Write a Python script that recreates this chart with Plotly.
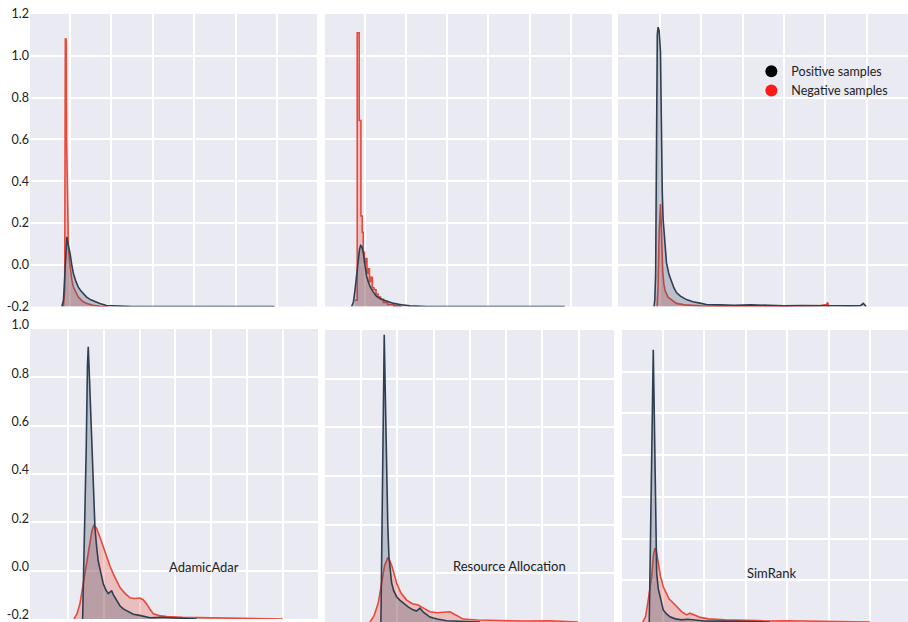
import plotly.graph_objects as go

# ---------------- data (x in grid units of each panel, y in displayed axis units) ----------------
BASE = -0.2

# top-left
tl_pos_x = [0.80, 0.84, 0.86, 0.88, 0.90, 0.92, 0.96, 1.00, 1.04, 1.08, 1.14, 1.20, 1.26, 1.32, 1.40, 1.50, 1.60, 1.72, 1.88, 2.10, 2.50, 3.50, 4.50, 5.94]
tl_pos_y = [-0.2, -0.17, -0.10, 0.00, 0.09, 0.133, 0.09, 0.054, 0.00, -0.042, -0.08, -0.107, -0.125, -0.138, -0.155, -0.168, -0.178, -0.186, -0.195, -0.198, -0.2, -0.2, -0.2, -0.2]
tl_neg_x = [0.84, 0.87, 0.885, 0.905, 0.915, 0.925, 0.935, 0.945, 0.96, 0.98, 1.00, 1.04, 1.08, 1.14, 1.20, 1.30, 1.40, 1.55, 1.72, 1.90]
tl_neg_y = [-0.2, -0.12, 1.08, 1.08, 0.60, 0.42, 0.40, 0.18, 0.09, 0.03, -0.011, -0.07, -0.107, -0.135, -0.155, -0.175, -0.185, -0.194, -0.199, -0.2]

# top-middle
tm_pos_x = [0.677, 0.72, 0.76, 0.80, 0.84, 0.87, 0.896, 0.93, 0.959, 1.00, 1.041, 1.08, 1.121, 1.20, 1.284, 1.40, 1.527, 1.70, 1.85, 2.09, 2.5, 3.5, 4.5, 5.85]
tm_pos_y = [-0.2, -0.18, -0.12, -0.04, 0.03, 0.075, 0.092, 0.085, 0.059, 0.00, -0.055, -0.08, -0.103, -0.13, -0.151, -0.165, -0.175, -0.185, -0.19, -0.197, -0.2, -0.2, -0.2, -0.2]
tm_neg_x = [0.757, 0.813, 0.862, 0.903, 0.934, 0.96, 0.99, 1.02, 1.05, 1.08, 1.11, 1.14, 1.18, 1.22, 1.27, 1.32, 1.38, 1.45, 1.55, 1.70, 1.85, 1.90]
tm_neg_y = [-0.17, 1.11, 0.69, 0.233, 0.155, 0.06, 0.01, 0.03, -0.04, -0.02, -0.08, -0.06, -0.11, -0.12, -0.14, -0.155, -0.165, -0.18, -0.19, -0.197, -0.2, -0.2]

# top-right
tr_pos_x = [0.862, 0.879, 0.90, 0.920, 0.94, 0.959, 0.985, 1.017, 1.041, 1.06, 1.08, 1.12, 1.162, 1.22, 1.283, 1.34, 1.403, 1.50, 1.645, 1.80, 2.0, 2.128, 2.45, 2.8, 3.2, 3.6, 4.0, 4.4, 4.8, 5.2, 5.6, 5.85, 5.92, 5.96, 5.99]
tr_pos_y = [-0.2, -0.17, -0.05, 0.60, 1.10, 1.137, 1.12, 1.02, 0.54, 0.35, 0.22, 0.09, 0.01, -0.045, -0.085, -0.11, -0.133, -0.15, -0.167, -0.177, -0.185, -0.19, -0.192, -0.194, -0.192, -0.195, -0.196, -0.195, -0.197, -0.196, -0.197, -0.196, -0.185, -0.195, -0.2]
tr_neg_x = [0.935, 0.96, 0.985, 1.017, 1.035, 1.048, 1.07, 1.097, 1.13, 1.2, 1.3, 1.403, 1.6, 2.0, 2.5, 3.0, 3.5, 4.0, 4.5, 4.9, 5.03, 5.06, 5.08]
tr_neg_y = [-0.2, -0.10, 0.15, 0.29, 0.20, 0.055, -0.03, -0.09, -0.125, -0.155, -0.172, -0.185, -0.192, -0.197, -0.198, -0.199, -0.199, -0.198, -0.197, -0.195, -0.19, -0.18, -0.2]

# bottom-left (AdamicAdar)
bl_pos_x = [1.41, 1.46, 1.51, 1.545, 1.567, 1.60, 1.662, 1.71, 1.754, 1.80, 1.846, 1.92, 1.986, 2.06, 2.126, 2.18, 2.22, 2.27, 2.36, 2.45, 2.545, 2.68, 2.824, 3.0, 3.29, 3.6, 4.0, 4.3, 4.6]
bl_pos_y = [-0.2, 0.10, 0.50, 0.85, 0.926, 0.80, 0.527, 0.33, 0.179, 0.10, 0.04, -0.01, -0.054, -0.08, -0.095, -0.088, -0.084, -0.10, -0.125, -0.145, -0.158, -0.17, -0.18, -0.185, -0.195, -0.193, -0.197, -0.198, -0.2]
bl_neg_x = [1.168, 1.25, 1.335, 1.40, 1.475, 1.55, 1.615, 1.67, 1.726, 1.80, 1.894, 1.99, 2.081, 2.17, 2.265, 2.36, 2.453, 2.6, 2.732, 2.85, 3.011, 3.1, 3.198, 3.3, 3.383, 3.55, 3.757, 4.2, 4.8, 5.4, 6.0, 6.5, 7.0]
bl_neg_y = [-0.2, -0.18, -0.137, -0.08, 0.0, 0.06, 0.11, 0.165, 0.19, 0.175, 0.138, 0.095, 0.055, 0.02, -0.013, -0.045, -0.07, -0.095, -0.112, -0.115, -0.113, -0.12, -0.138, -0.162, -0.178, -0.186, -0.19, -0.193, -0.195, -0.196, -0.197, -0.198, -0.2]

# bottom-middle (Resource Allocation)
bm_pos_x = [1.551, 1.58, 1.61, 1.642, 1.67, 1.708, 1.74, 1.771, 1.81, 1.846, 1.9, 1.983, 2.07, 2.165, 2.3, 2.433, 2.53, 2.625, 2.72, 2.9, 3.1, 3.36, 3.8, 4.278]
bm_pos_y = [-0.2, 0.2, 0.7, 0.98, 0.75, 0.396, 0.2, 0.068, 0.0, -0.04, -0.07, -0.096, -0.11, -0.122, -0.138, -0.15, -0.155, -0.143, -0.16, -0.18, -0.188, -0.195, -0.198, -0.2]
bm_neg_x = [1.248, 1.36, 1.477, 1.54, 1.598, 1.65, 1.74, 1.80, 1.86, 1.92, 1.983, 2.1, 2.259, 2.42, 2.579, 2.75, 2.9, 3.1, 3.3, 3.45, 3.6, 3.818, 4.2, 4.8, 5.5, 6.2, 6.978]
bm_neg_y = [-0.2, -0.175, -0.122, -0.07, -0.014, 0.03, 0.065, 0.05, 0.027, -0.005, -0.04, -0.08, -0.11, -0.125, -0.13, -0.145, -0.158, -0.162, -0.16, -0.158, -0.17, -0.188, -0.192, -0.195, -0.196, -0.195, -0.2]

# bottom-right (SimRank)
br_pos_x = [0.669, 0.70, 0.73, 0.766, 0.79, 0.807, 0.83, 0.848, 0.886, 0.928, 0.97, 1.007, 1.08, 1.169, 1.3, 1.45, 1.6, 1.8, 2.0, 2.4, 2.8, 3.2, 3.585]
br_pos_y = [-0.2, 0.2, 0.8, 1.105, 0.8, 0.497, 0.2, 0.035, -0.04, -0.079, -0.11, -0.142, -0.16, -0.175, -0.185, -0.19, -0.187, -0.192, -0.195, -0.196, -0.197, -0.198, -0.2]
br_neg_x = [0.51, 0.58, 0.645, 0.69, 0.727, 0.77, 0.807, 0.84, 0.886, 0.94, 1.007, 1.08, 1.15, 1.249, 1.35, 1.45, 1.572, 1.65, 1.75, 1.9, 2.1, 2.5, 3.0, 3.5, 4.0, 4.5, 5.0, 5.5, 6.0]
br_neg_y = [-0.2, -0.175, -0.094, -0.03, 0.017, 0.12, 0.155, 0.14, 0.083, 0.02, -0.031, -0.065, -0.09, -0.109, -0.13, -0.15, -0.166, -0.158, -0.165, -0.178, -0.185, -0.19, -0.192, -0.195, -0.194, -0.196, -0.195, -0.197, -0.2]

top_ticks = [-0.2, 0.0, 0.2, 0.4, 0.6, 0.8, 1.0, 1.2]
top_tick_text = ["-0.2", "0.0", "0.2", "0.4", "0.6", "0.8", "1.0", "1.2"]
bot_ticks = [-0.2, 0.0, 0.2, 0.4, 0.6, 0.8, 1.0]
bot_tick_text = ["-0.2", "0.0", "0.2", "0.4", "0.6", "0.8", "1.0"]

method_labels = ["AdamicAdar", "Resource Allocation", "SimRank"]
legend_names = ["Positive samples", "Negative samples"]

# ---------------- styling ----------------
POS_LINE = "#2e3f51"
POS_FILL = "rgba(60,80,105,0.28)"
NEG_LINE = "#e8493a"
NEG_FILL = "rgba(232,73,58,0.28)"
BG = "#eaeaf2"
FONT = "Lato, Open Sans, sans-serif"

fig = go.Figure()

panels = [
    ("x", "y", tl_pos_x, tl_pos_y, tl_neg_x, tl_neg_y, "linear"),
    ("x2", "y2", tm_pos_x, tm_pos_y, tm_neg_x, tm_neg_y, "hv"),
    ("x3", "y3", tr_pos_x, tr_pos_y, tr_neg_x, tr_neg_y, "linear"),
    ("x4", "y4", bl_pos_x, bl_pos_y, bl_neg_x, bl_neg_y, "linear"),
    ("x5", "y5", bm_pos_x, bm_pos_y, bm_neg_x, bm_neg_y, "linear"),
    ("x6", "y6", br_pos_x, br_pos_y, br_neg_x, br_neg_y, "linear"),
]


def add_area(xa, ya, xs, ys, line_color, fill_color, shape):
    fig.add_trace(go.Scatter(x=[xs[0], xs[-1]], y=[BASE, BASE], xaxis=xa, yaxis=ya,
                             mode="lines", line=dict(width=0), showlegend=False, hoverinfo="skip"))
    fig.add_trace(go.Scatter(x=xs, y=ys, xaxis=xa, yaxis=ya, mode="lines", fill="tonexty",
                             fillcolor=fill_color, line=dict(color=line_color, width=1.6, shape=shape),
                             showlegend=False))


for xa, ya, px_, py_, nx_, ny_, nshape in panels:
    add_area(xa, ya, nx_, ny_, NEG_LINE, NEG_FILL, nshape)
    add_area(xa, ya, px_, py_, POS_LINE, POS_FILL, "linear")

# legend entries
fig.add_trace(go.Scatter(x=[None], y=[None], xaxis="x3", yaxis="y3", mode="markers",
                         marker=dict(color="black", size=12), name=legend_names[0]))
fig.add_trace(go.Scatter(x=[None], y=[None], xaxis="x3", yaxis="y3", mode="markers",
                         marker=dict(color="#ff1a1a", size=12), name=legend_names[1]))

top_y = [0.5072, 0.9775]
doms = {
    "x": ([0.0330, 0.3491], top_y, [0.03, 6.97], [1, 2, 3, 4, 5, 6]),
    "x2": ([0.3579, 0.6740], top_y, [0.03, 7.0], [1, 2, 3, 4, 5, 6]),
    "x3": ([0.6806, 1.0], top_y, [-0.01, 7.0], [1, 2, 3, 4, 5, 6]),
    "x4": ([0.0330, 0.3502], [0.0048, 0.4711], [-0.06, 7.98], [1, 2, 3, 4, 5, 6, 7]),
    "x5": ([0.3579, 0.6762], [0.0, 0.4695], [0.01, 7.97], [1, 2, 3, 4, 5, 6, 7]),
    "x6": ([0.6850, 1.0], [0.0, 0.4695], [0.01, 6.92], [1, 2, 3, 4, 5, 6]),
}
yinfo = {
    "x": ("y", [-0.2, 1.2], top_ticks, top_tick_text, True, 0),
    "x2": ("y2", [-0.2, 1.2], top_ticks, top_tick_text, False, 0),
    "x3": ("y3", [-0.2, 1.2], top_ticks, top_tick_text, False, 0),
    "x4": ("y4", [-0.2, 1.0], bot_ticks, bot_tick_text, True, -4),
    "x5": ("y5", [-0.2, 1.0], bot_ticks, bot_tick_text, False, 0),
    "x6": ("y6", [-0.2, 1.2], top_ticks, top_tick_text, False, 0),
}

layout = dict(
    width=908, height=622, margin=dict(l=0, r=0, t=0, b=0),
    paper_bgcolor="white", plot_bgcolor=BG,
    font=dict(family=FONT, size=12, color="#222222"),
    showlegend=True,
    legend=dict(x=0.8275, y=0.909, xanchor="left", yanchor="top", bgcolor="rgba(0,0,0,0)",
                font=dict(family=FONT, size=12.5, color="#222222"), itemsizing="trace",
                traceorder="normal", tracegroupgap=0),
)

for xk, (xd, yd, xr, xt) in doms.items():
    yk, yr, ytv, ytt, showlab, shift = yinfo[xk]
    xname = "xaxis" if xk == "x" else "xaxis" + xk[1:]
    yname = "yaxis" if yk == "y" else "yaxis" + yk[1:]
    layout[xname] = dict(domain=xd, range=xr, tickvals=xt, showticklabels=False, showgrid=True,
                         gridcolor="white", gridwidth=1.5, zeroline=False, showline=False,
                         anchor=yk, fixedrange=True)
    layout[yname] = dict(domain=yd, range=yr, tickvals=ytv, ticktext=ytt, showticklabels=showlab,
                         showgrid=True, gridcolor="white", gridwidth=1.5, zeroline=False,
                         showline=False, anchor=xk, ticks="", automargin=False,
                         ticklabeloverflow="allow", ticklabelshift=shift,
                         tickfont=dict(family=FONT, size=12.5, color="#222222"), fixedrange=True)

fig.update_layout(**layout)

fig.add_annotation(x=4.80, y=0.016, xref="x4", yref="y4", text=method_labels[0], showarrow=False,
                   font=dict(family=FONT, size=13, color="#222222"))
fig.add_annotation(x=5.10, y=0.03, xref="x5", yref="y5", text=method_labels[1], showarrow=False,
                   font=dict(family=FONT, size=13, color="#222222"))
fig.add_annotation(x=3.63, y=0.035, xref="x6", yref="y6", text=method_labels[2], showarrow=False,
                   font=dict(family=FONT, size=13, color="#222222"))

fig.write_html("out.html", config={"displayModeBar": False},
               post_script="document.body.style.margin='0';")
